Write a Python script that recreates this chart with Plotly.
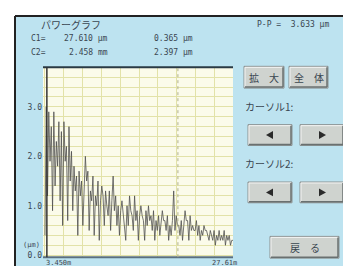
import plotly.graph_objects as go
import numpy as np

W, H = 351, 266

# ---- data ----
power_values = [
    0.4, 3.0, 1.2, 2.9, 1.9, 2.6, 0.9, 2.9, 1.4, 2.3,
    1.8, 2.7, 1.1, 2.5, 0.6, 2.7, 1.9, 2.2, 0.7, 2.6,
    1.5, 2.1, 0.9, 1.8, 1.3, 1.6, 0.4, 1.7, 1.2, 1.5,
    0.6, 1.4, 2.0, 1.5, 1.7, 0.5, 1.3, 1.1, 1.6, 0.4,
    1.2, 1.0, 1.5, 0.3, 1.1, 1.4, 1.2, 0.6, 1.3, 1.0,
    0.8, 1.3, 0.5, 1.1, 1.6, 0.9, 1.2, 0.6, 1.0, 0.4,
    0.9, 1.1, 0.8, 0.5, 0.3, 1.0, 0.6, 1.2, 0.9, 0.8,
    0.5, 1.2, 0.7, 0.9, 0.3, 0.8, 1.0, 0.8, 0.7, 0.3,
    0.9, 0.6, 1.0, 0.7, 0.8, 0.5, 0.9, 0.3, 0.7, 0.5,
    0.8, 0.4, 0.6, 0.9, 0.7, 0.7, 0.5, 0.8, 0.3, 0.6,
    0.4, 0.7, 1.3, 0.5, 0.8, 0.6, 0.6, 0.4, 0.7, 0.3,
    0.6, 0.9, 0.7, 0.7, 0.3, 0.8, 0.5, 0.6, 0.5, 0.5,
    0.7, 0.4, 0.6, 0.3, 0.5, 0.4, 0.6, 0.5, 0.5, 0.4,
    0.3, 0.5, 0.4, 0.3, 0.5, 0.2, 0.4, 0.3, 0.5, 0.3,
    0.4, 0.3, 0.5, 0.2, 0.4, 0.3, 0.4, 0.2, 0.3, 0.3,
]
positions = np.linspace(0, 100, len(power_values))
y_tick_vals = [0, 1, 2, 3]
y_tick_text = ["0.0", "1.0", "2.0", "3.0"]
x_end_labels = ["3.450m", "27.61m"]
cursor1_pos = 1.0
cursor2_pos = 70.7

BG = "#bde3f0"
TXT = "#3a4650"
JP = "Noto Sans CJK JP"
MONO = "DejaVu Sans Mono"


def px(x):
    return x / W


def py(y):
    return 1 - y / H


fig = go.Figure()
fig.add_trace(go.Scatter(x=positions, y=power_values, mode="lines",
                         line=dict(color="#505050", width=0.8), hoverinfo="skip"))

PL, PR, PT, PB = 35, 225, 60, 252
fig.update_layout(
    width=W, height=H, margin=dict(l=0, r=0, t=0, b=0),
    paper_bgcolor=BG, plot_bgcolor="#fbfbea", showlegend=False,
    xaxis=dict(domain=[px(PL), px(PR)], range=[-1.06, 100], showticklabels=False,
               showgrid=True, gridcolor="#e2e2a8", gridwidth=1, dtick=10,
               zeroline=False, showline=False, ticks="", fixedrange=True),
    yaxis=dict(domain=[py(PB), py(PT)], range=[-0.04, 3.8], tickvals=y_tick_vals,
               ticktext=y_tick_text, showgrid=True, gridcolor="#e2e2a8", gridwidth=1,
               minor=dict(dtick=0.2, showgrid=True, gridcolor="#e2e2a8"),
               zeroline=False, showline=False, ticks="",
               tickfont=dict(family=MONO, size=8, color=TXT), fixedrange=True),
)

shapes = []
# outer frame
shapes.append(dict(type="rect", xref="paper", yref="paper", x0=0, x1=1, y0=py(8), y1=1,
                   fillcolor="white", line=dict(width=0), layer="below"))
shapes.append(dict(type="rect", xref="paper", yref="paper", x0=0, x1=px(7), y0=0, y1=1,
                   fillcolor="white", line=dict(width=0), layer="below"))
shapes.append(dict(type="line", xref="paper", yref="paper", x0=px(7), x1=1, y0=py(8), y1=py(8),
                   line=dict(color="#222222", width=2)))
shapes.append(dict(type="line", xref="paper", yref="paper", x0=px(7), x1=px(7), y0=0, y1=py(8),
                   line=dict(color="#222222", width=2)))
# plot top / bottom borders
shapes.append(dict(type="line", xref="paper", yref="paper", x0=px(PL), x1=px(PR), y0=py(PT), y1=py(PT),
                   line=dict(color="#2a3a44", width=2)))
shapes.append(dict(type="line", xref="paper", yref="paper", x0=px(PL), x1=px(PR), y0=py(PB), y1=py(PB),
                   line=dict(color="#5a7080", width=2)))
# cursors
shapes.append(dict(type="line", xref="x", yref="paper", x0=cursor1_pos, x1=cursor1_pos,
                   y0=py(PB), y1=py(PT), line=dict(color="#333333", width=1.5)))
shapes.append(dict(type="line", xref="x", yref="paper", x0=cursor2_pos, x1=cursor2_pos,
                   y0=py(PB), y1=py(PT), line=dict(color="#b0b090", width=1, dash="dot")))


def button(x0, y0, x1, y1):
    shapes.append(dict(type="rect", xref="paper", yref="paper", x0=px(x0), x1=px(x1),
                       y0=py(y1), y1=py(y0), fillcolor="#cfd3cf",
                       line=dict(color="#8a9090", width=1)))
    shapes.append(dict(type="line", xref="paper", yref="paper", x0=px(x0 + 1), x1=px(x1 - 1),
                       y0=py(y0 + 1), y1=py(y0 + 1), line=dict(color="#f4f4f4", width=1)))
    shapes.append(dict(type="line", xref="paper", yref="paper", x0=px(x0 + 1), x1=px(x0 + 1),
                       y0=py(y1 - 1), y1=py(y0 + 1), line=dict(color="#f4f4f4", width=1)))
    shapes.append(dict(type="line", xref="paper", yref="paper", x0=px(x0 + 1), x1=px(x1 - 1),
                       y0=py(y1 - 1), y1=py(y1 - 1), line=dict(color="#6a7070", width=1.5)))
    shapes.append(dict(type="line", xref="paper", yref="paper", x0=px(x1 - 1), x1=px(x1 - 1),
                       y0=py(y1 - 1), y1=py(y0 + 1), line=dict(color="#6a7070", width=1.5)))


def tri(cx, cy, left=True):
    if left:
        path = f"M {px(cx-4)},{py(cy)} L {px(cx+3)},{py(cy-4)} L {px(cx+3)},{py(cy+4)} Z"
    else:
        path = f"M {px(cx+4)},{py(cy)} L {px(cx-3)},{py(cy-4)} L {px(cx-3)},{py(cy+4)} Z"
    shapes.append(dict(type="path", xref="paper", yref="paper", path=path,
                       fillcolor="#2a2a2a", line=dict(width=0)))


button(236, 59, 276, 81)
button(281, 59, 320, 81)
button(240, 118, 284, 139)
button(292, 118, 336, 139)
button(240, 176, 284, 197)
button(292, 176, 336, 197)
button(262, 231, 331, 253)
tri(262, 128.5, True)
tri(314, 128.5, False)
tri(262, 186.5, True)
tri(314, 186.5, False)

fig.update_layout(shapes=shapes)

ann = []


def text(x, y, s, size=9, family=MONO, anchor="left", color=TXT, yanchor="middle"):
    ann.append(dict(xref="paper", yref="paper", x=px(x), y=py(y), text=s, showarrow=False,
                    xanchor=anchor, yanchor=yanchor, borderpad=0,
                    font=dict(family=family, size=size, color=color)))


text(32, 17, "パワーグラフ", size=10, family=JP)
text(22, 31, "C1=", size=8)
text(55, 31, "27.610 μm", size=8)
text(145, 31, "0.365 μm", size=8)
text(22, 45, "C2=", size=8)
text(60, 45, "2.458 mm", size=8)
text(145, 45, "2.397 μm", size=8)
text(248, 17, "P-P =  3.633 μm", size=8)
text(256, 70, "拡　大", size=10, family=JP, anchor="center")
text(300.5, 70, "全　体", size=10, family=JP, anchor="center")
text(236, 100, "カーソル1:", size=10, family=JP)
text(236, 157, "カーソル2:", size=10, family=JP)
text(296.5, 242, "戻　る", size=10, family=JP, anchor="center")
text(14, 240, "(μm)", size=7)
text(37, 263, x_end_labels[0], size=7, yanchor="bottom")
text(203, 263, x_end_labels[1], size=7, yanchor="bottom")
fig.update_layout(annotations=ann)

fig.write_html("out.html")
